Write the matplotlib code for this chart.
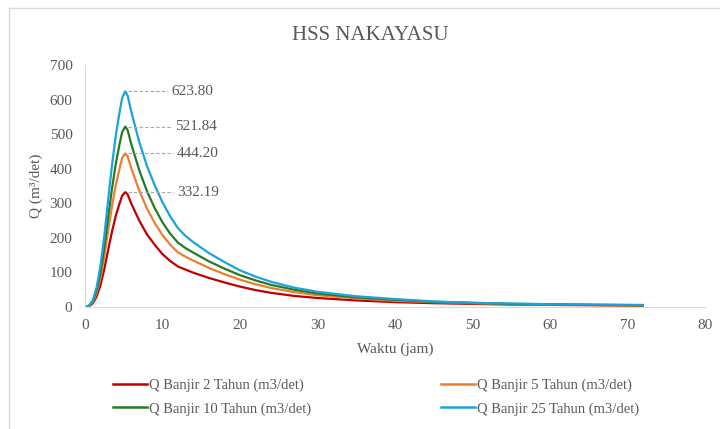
import matplotlib.pyplot as plt
from matplotlib.lines import Line2D

plt.rcParams['font.family'] = ['Liberation Serif', 'DejaVu Serif']

TEXT_GREY = '#595959'
AXIS_GREY = '#D9D9D9'

# Time axis (jam)
waktu = [0, 0.5, 1, 1.5, 2, 2.5, 3, 3.5, 4, 4.5, 4.8, 5.2, 5.5,
         6, 7, 8, 9, 10, 11, 12, 13, 14, 16, 18, 20, 22, 24, 27,
         30, 35, 40, 45, 50, 55, 60, 66, 72]

# Discharge (m3/det)
q2 = [0, 2, 10, 30, 63, 110, 166, 219, 266, 302, 322, 332.19, 326,
      298, 250, 210, 180, 153, 133, 117, 108, 99, 84, 71, 59, 49, 41, 32,
      26, 19, 14, 11, 9, 7, 6, 5, 4]
q5 = [0, 2, 13, 40, 84, 147, 222, 293, 355, 404, 431, 444.20, 436,
      400, 337, 285, 243, 208, 180, 158, 145, 134, 113, 95, 79, 66, 55, 43,
      34, 25, 18, 14, 11, 8, 7, 6, 5]
q10 = [0, 3, 16, 47, 99, 172, 261, 344, 417, 475, 506, 521.84, 512,
       469, 396, 335, 286, 245, 212, 186, 170, 157, 132, 111, 92, 77, 64, 50,
       39, 28, 21, 15, 12, 9, 8, 6, 5]
q25 = [0, 3, 19, 56, 119, 206, 312, 412, 499, 568, 605, 623.80, 612,
       563, 478, 408, 352, 303, 262, 228, 205, 187, 156, 130, 106, 88, 73, 56,
       44, 31, 23, 16, 12, 10, 8, 7, 6]

series = [
    ('Q Banjir 2 Tahun (m3/det)', q2, '#C00000'),
    ('Q Banjir 5 Tahun (m3/det)', q5, '#ED7D31'),
    ('Q Banjir 10 Tahun (m3/det)', q10, '#267A26'),
    ('Q Banjir 25 Tahun (m3/det)', q25, '#1AA3DD'),
]

fig = plt.figure(figsize=(7.2, 4.29), dpi=100)
ax = fig.add_axes([0.118, 0.2844, 0.861, 0.5641])

for label, q, colour in series:
    ax.plot(waktu, q, color=colour, lw=1.6, label=label,
            solid_joinstyle='round')

# Peak labels with dashed leader lines
label_x = [11.9, 11.9, 11.6, 11.2]
for (label, q, colour), lx in zip(series, label_x):
    peak = max(q)
    t_peak = waktu[q.index(peak)]
    ax.plot([t_peak + 0.3, lx - 0.5], [peak, peak], color='#A6A6A6',
            lw=0.8, ls=(0, (3, 2)))
    ax.text(lx, peak, f'{peak:.2f}', color=TEXT_GREY, fontsize=11,
            va='center', ha='left')

ax.set_xlim(0, 80)
ax.set_ylim(0, 700)
ax.set_xticks(range(0, 81, 10))
ax.set_yticks(range(0, 701, 100))
ax.tick_params(length=0, colors=TEXT_GREY, labelsize=11)
ax.tick_params(axis='x', pad=9)
ax.tick_params(axis='y', pad=9)
ax.spines.top.set_visible(False)
ax.spines.right.set_visible(False)
ax.spines.left.set_color(AXIS_GREY)
ax.spines.bottom.set_color(AXIS_GREY)

ax.set_xlabel('Waktu (jam)', color=TEXT_GREY, fontsize=11, labelpad=7)
ax.set_ylabel('Q (m\u00b3/det)', color=TEXT_GREY, fontsize=11, labelpad=5)
fig.text(0.514, 0.918, 'HSS NAKAYASU', ha='center', va='center',
         color=TEXT_GREY, fontsize=15)

# Two legend columns placed like the original
handles = ax.get_lines()[:4]
for idx, x0 in [((0, 2), 0.157), ((1, 3), 0.613)]:
    hs = [handles[i] for i in idx]
    leg = fig.legend(hs, [h.get_label() for h in hs], loc='upper left',
                     bbox_to_anchor=(x0, 0.118), frameon=False, fontsize=10.5,
                     handlelength=2.3, handletextpad=0.15, labelspacing=0.7,
                     borderaxespad=0, borderpad=0, labelcolor=TEXT_GREY)
    for line in leg.get_lines():
        line.set_linewidth(1.8)

# Chart area border
border = dict(color=AXIS_GREY, lw=1.0, transform=fig.transFigure)
fig.add_artist(Line2D([0.012, 0.012], [0.0, 0.982], **border))
fig.add_artist(Line2D([0.012, 1.0], [0.982, 0.982], **border))

fig.savefig('out.png', dpi=100)
